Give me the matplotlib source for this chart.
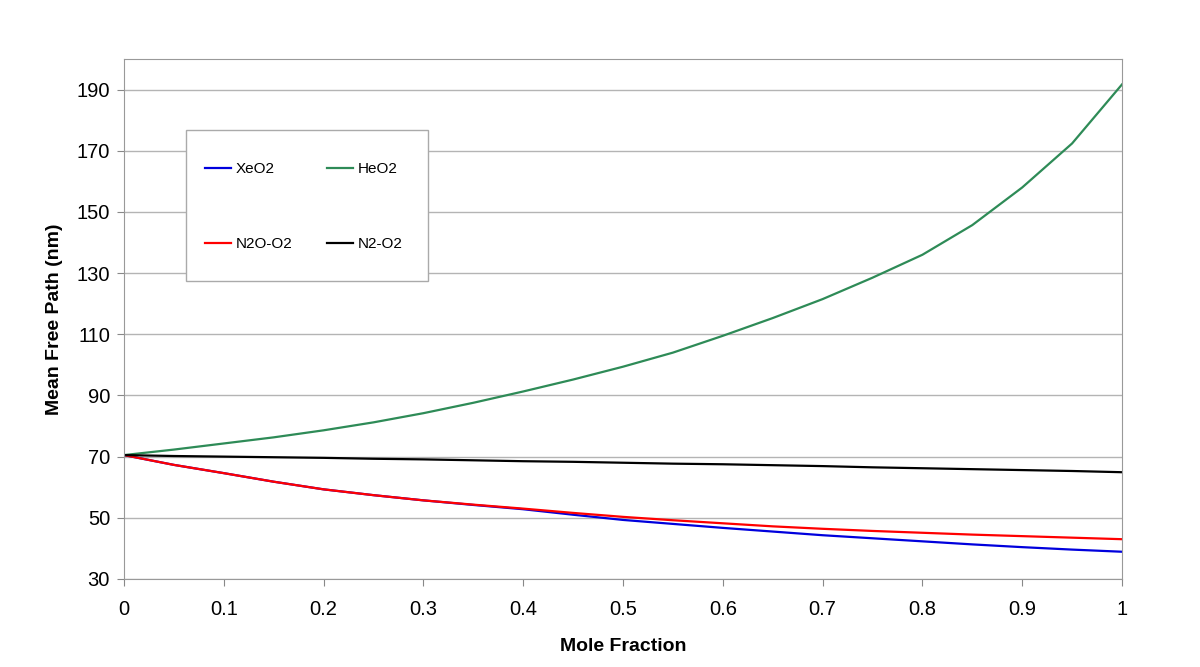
import numpy as np
import matplotlib
matplotlib.use("Agg")
import matplotlib.pyplot as plt
from matplotlib.patches import Rectangle

plt.rcParams['font.family'] = ['Liberation Sans', 'DejaVu Sans']

# mole fraction
x = [0, 0.05, 0.1, 0.15, 0.2, 0.25, 0.3, 0.35, 0.4, 0.45, 0.5,
     0.55, 0.6, 0.65, 0.7, 0.75, 0.8, 0.85, 0.9, 0.95, 1.0]

xeo2 = [70.5, 67.3, 64.6, 61.8, 59.3, 57.4, 55.7, 54.2, 52.8, 51.0, 49.3,
        48.0, 46.7, 45.5, 44.3, 43.3, 42.3, 41.3, 40.4, 39.6, 38.9]
heo2 = [70.5, 72.3, 74.3, 76.3, 78.6, 81.2, 84.2, 87.6, 91.3, 95.2, 99.4,
        104.0, 109.5, 115.3, 121.5, 128.5, 136.0, 145.7, 158.0, 172.4, 191.7]
n2o_o2 = [70.5, 67.3, 64.6, 61.8, 59.3, 57.4, 55.7, 54.3, 53.0, 51.6, 50.3,
          49.2, 48.2, 47.2, 46.4, 45.7, 45.1, 44.5, 44.0, 43.5, 43.0]
n2_o2 = [70.5, 70.2, 70.0, 69.8, 69.6, 69.3, 69.1, 68.8, 68.5, 68.3, 68.0,
         67.7, 67.5, 67.2, 66.9, 66.5, 66.2, 65.9, 65.6, 65.3, 64.9]

xticks = [0, 0.1, 0.2, 0.3, 0.4, 0.5, 0.6, 0.7, 0.8, 0.9, 1]
xticklabels = ['0', '0.1', '0.2', '0.3', '0.4', '0.5', '0.6', '0.7', '0.8', '0.9', '1']
yticks = [30, 50, 70, 90, 110, 130, 150, 170, 190]

fig = plt.figure(figsize=(12, 6.67), dpi=100)
ax = fig.add_axes([0.1033, 0.132, 0.8317, 0.7795])

l_xe, = ax.plot(x, xeo2, color='#0000dd', lw=1.6, label='XeO2')
l_he, = ax.plot(x, heo2, color='#2e8b57', lw=1.6, label='HeO2')
l_n2o, = ax.plot(x, n2o_o2, color='#ff0000', lw=1.6, label='N2O-O2')
l_n2, = ax.plot(x, n2_o2, color='#000000', lw=1.6, label='N2-O2')

ax.set_xlim(0, 1)
ax.set_ylim(30, 200)
ax.set_xticks(xticks)
ax.set_xticklabels(xticklabels)
ax.set_yticks(yticks)
ax.yaxis.grid(True, color='#b4b4b4', lw=1)
ax.set_axisbelow(True)
for s in ax.spines.values():
    s.set_color('#999999')
ax.tick_params(axis='both', labelsize=14.5, colors='#888888', labelcolor='black',
               length=5)
ax.tick_params(axis='x', pad=10)
ax.tick_params(axis='y', pad=5)

ax.set_xlabel('Mole Fraction', fontsize=14, fontweight='bold', labelpad=14)
ax.set_ylabel('Mean Free Path (nm)', fontsize=14, fontweight='bold', labelpad=10)

# legend box
ax.add_patch(Rectangle((0.062, 0.573), 0.243, 0.29, transform=ax.transAxes,
                       facecolor='white', edgecolor='#aaaaaa', lw=1, zorder=4))
leg = ax.legend([l_xe, l_n2o, l_he, l_n2], ['XeO2', 'N2O-O2', 'HeO2', 'N2-O2'],
                ncol=2, loc='upper left', bbox_to_anchor=(0.0812, 0.802),
                fontsize=11, labelspacing=4.0, handlelength=1.7,
                handletextpad=0.3, columnspacing=2.3, borderpad=0,
                borderaxespad=0, frameon=False)
leg.set_zorder(5)

fig.savefig('out.png', dpi=100)
